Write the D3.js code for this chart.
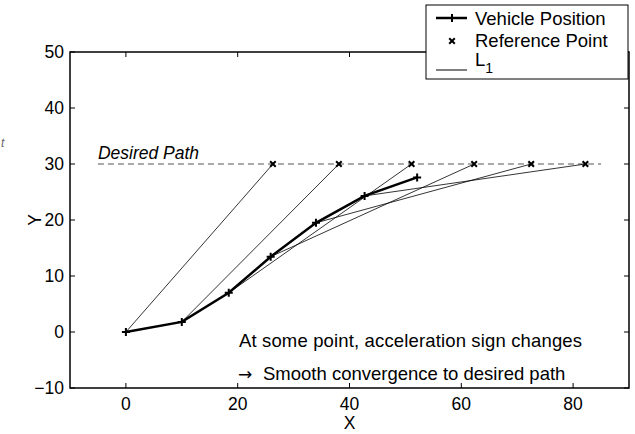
<!DOCTYPE html>
<html><head><meta charset="utf-8">
<script src="https://cdn.jsdelivr.net/npm/d3@7"></script>
<style>body{margin:0;background:#fff}svg{display:block}text{font-family:"Liberation Sans",Arial,Helvetica,sans-serif}</style>
</head><body>
<svg id="c" width="635" height="434"></svg>
<script>
const vehX = [0, 10, 18.4, 25.9, 34.0, 42.7, 52.1];
const vehY = [0, 1.8, 7.0, 13.45, 19.5, 24.3, 27.6];
const refX = [26.3, 38.1, 51.1, 62.3, 72.5, 82.2];
const refY = [30, 30, 30, 30, 30, 30];
const pathX = [-5, 85];
const pathY = [30, 30];
const xTicks = [0, 20, 40, 60, 80];
const yTicks = [-10, 0, 10, 20, 30, 40, 50];
const legendLabels = ["Vehicle Position", "Reference Point", "L"];
const notes = ["At some point, acceleration sign changes", "Smooth convergence to desired path"];

const svg = d3.select("#c");
const L = 70, R = 629, T = 52, B = 388;
const x = d3.scaleLinear().domain([-10, 90]).range([L, R]);
const y = d3.scaleLinear().domain([-10, 50]).range([B, T]);
const FS = 17.5;

svg.append("rect").attr("x", L).attr("y", T).attr("width", R - L).attr("height", B - T)
  .attr("fill", "none").attr("stroke", "#000").attr("stroke-width", 1.5);

const tl = 5;
const g = svg.append("g").attr("stroke", "#000").attr("stroke-width", 1);
xTicks.forEach(v => {
  g.append("line").attr("x1", x(v)).attr("x2", x(v)).attr("y1", B).attr("y2", B - tl);
  g.append("line").attr("x1", x(v)).attr("x2", x(v)).attr("y1", T).attr("y2", T + tl);
});
yTicks.forEach(v => {
  g.append("line").attr("y1", y(v)).attr("y2", y(v)).attr("x1", L).attr("x2", L + tl);
  g.append("line").attr("y1", y(v)).attr("y2", y(v)).attr("x1", R).attr("x2", R - tl);
});
xTicks.forEach(v => svg.append("text").attr("x", x(v)).attr("y", 410).attr("text-anchor", "middle")
  .attr("font-size", FS).text(v));
yTicks.forEach(v => svg.append("text").attr("x", 64).attr("y", y(v) + 6.3).attr("text-anchor", "end")
  .attr("font-size", FS).text(v < 0 ? "\u2212" + Math.abs(v) : v));
svg.append("text").attr("x", x(40)).attr("y", 429).attr("text-anchor", "middle").attr("font-size", FS).text("X");
svg.append("text").attr("transform", `translate(41,${y(20)}) rotate(-90)`).attr("text-anchor", "middle")
  .attr("font-size", FS).text("Y");
svg.append("text").attr("x", 1).attr("y", 147).attr("font-size", 12).attr("font-style", "italic")
  .attr("fill", "#666").text("t");

svg.append("line").attr("x1", x(pathX[0])).attr("x2", x(pathX[1])).attr("y1", y(pathY[0])).attr("y2", y(pathY[1]))
  .attr("stroke", "#555").attr("stroke-width", 1).attr("stroke-dasharray", "6,4");
svg.append("text").attr("x", x(-5)).attr("y", 159).attr("font-size", FS).attr("font-style", "italic").text("Desired Path");

refX.forEach((rx, i) => {
  svg.append("line").attr("x1", x(vehX[i])).attr("y1", y(vehY[i])).attr("x2", x(rx)).attr("y2", y(refY[i]))
    .attr("stroke", "#000").attr("stroke-width", 0.8);
});

const line = d3.line().x(d => x(d[0])).y(d => y(d[1]));
const veh = vehX.map((v, i) => [v, vehY[i]]);
svg.append("path").attr("d", line(veh)).attr("fill", "none").attr("stroke", "#000").attr("stroke-width", 2.5);

function plus(px, py, s) {
  svg.append("path").attr("d", `M${px - s},${py}H${px + s}M${px},${py - s}V${py + s}`)
    .attr("stroke", "#000").attr("stroke-width", 2);
}
function cross(px, py, s) {
  svg.append("path").attr("d", `M${px - s},${py - s}L${px + s},${py + s}M${px - s},${py + s}L${px + s},${py - s}`)
    .attr("stroke", "#000").attr("stroke-width", 2);
}
veh.forEach(d => plus(x(d[0]), y(d[1]), 4));
refX.forEach((rx, i) => cross(x(rx), y(refY[i]), 2.8));

svg.append("text").attr("x", 239).attr("y", 347).attr("font-size", 18.5).attr("textLength", 343).text(notes[0]);
svg.append("text").attr("x", 238).attr("y", 380).attr("font-size", 17).style("font-family", "'DejaVu Sans'").text("\u2192");
svg.append("text").attr("x", 263).attr("y", 380).attr("font-size", 18.5).text(notes[1]);

const lg = svg.append("g");
lg.append("rect").attr("x", 426).attr("y", 5).attr("width", 202).attr("height", 74)
  .attr("fill", "#fff").attr("stroke", "#000").attr("stroke-width", 1);
lg.append("line").attr("x1", 436).attr("x2", 467).attr("y1", 18).attr("y2", 18).attr("stroke", "#000").attr("stroke-width", 2.5);
plus(452, 18, 4);
cross(452, 41, 2.8);
lg.append("line").attr("x1", 436).attr("x2", 467).attr("y1", 70).attr("y2", 70).attr("stroke", "#000").attr("stroke-width", 1);
lg.append("text").attr("x", 475).attr("y", 25).attr("font-size", 18.5).text(legendLabels[0]);
lg.append("text").attr("x", 475).attr("y", 47).attr("font-size", 18.5).text(legendLabels[1]);
const l1 = lg.append("text").attr("x", 475).attr("y", 66).attr("font-size", 18.5).text(legendLabels[2]);
l1.append("tspan").attr("dy", 7).attr("font-size", 14).text("1");
</script>
</body></html>
